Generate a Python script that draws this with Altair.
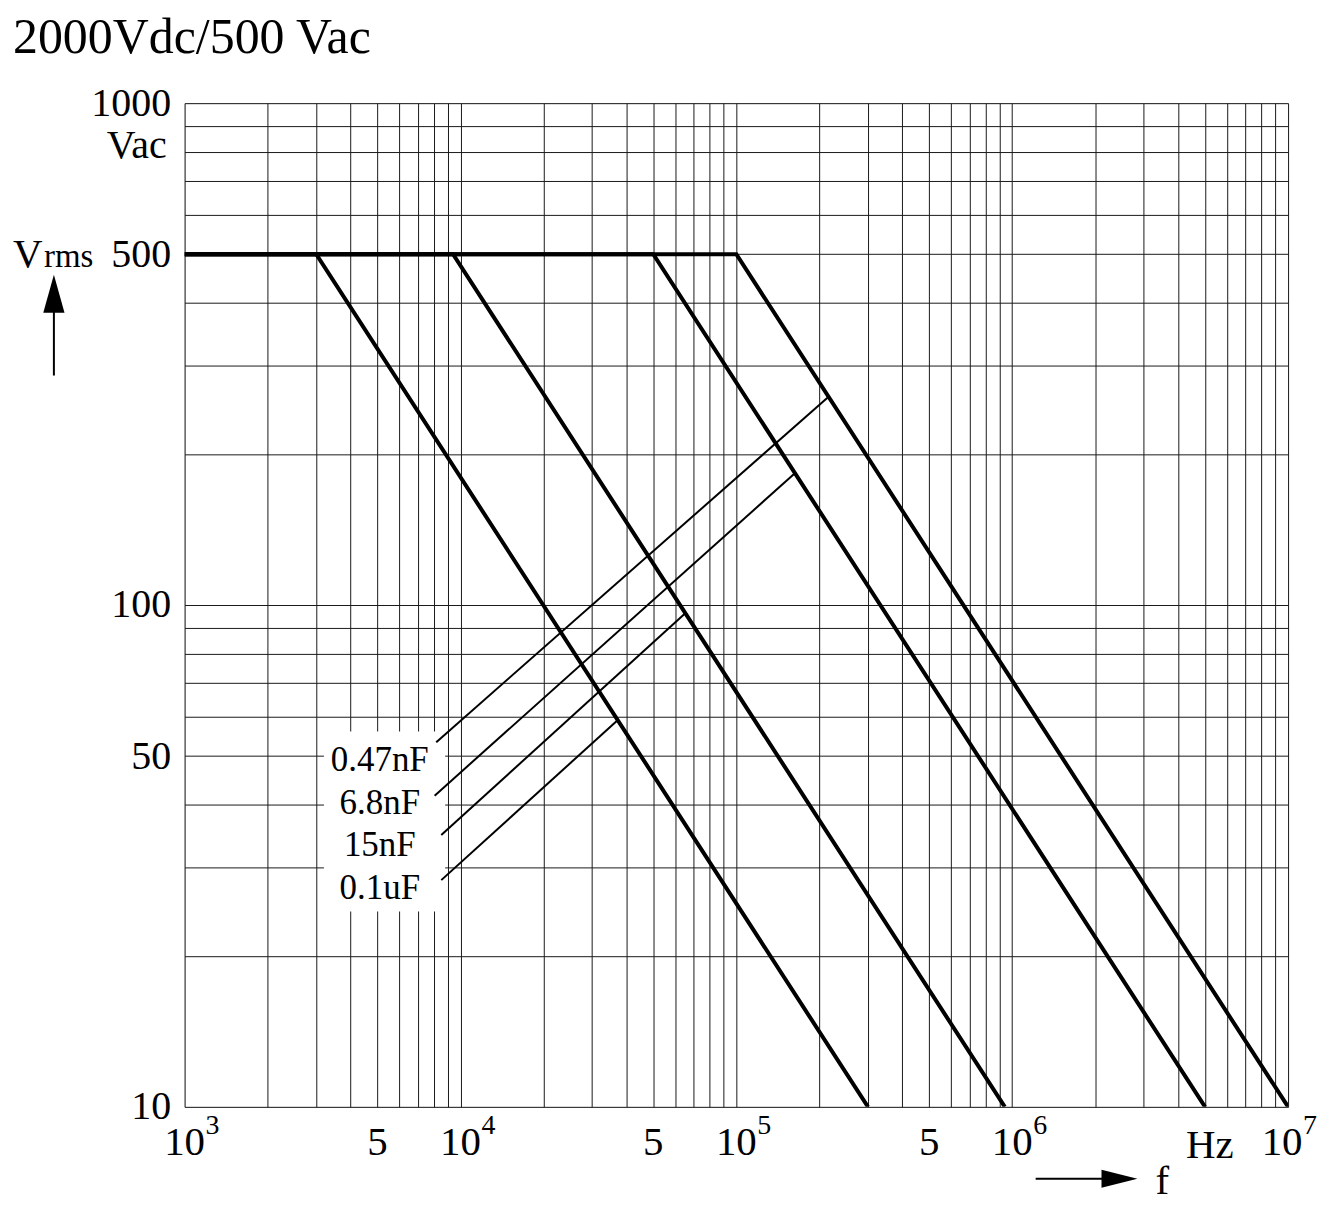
import altair as alt
import pandas as pd

# ---- data ----
curve_names = ["0.1uF", "15nF", "6.8nF", "0.47nF"]
corner_f = [3000, 9400, 50000, 100000]          # Hz where the curve leaves 500 V
end_f = [300000, 940000, 5000000, 10000000]     # Hz where the curve reaches 10 V
v_max = 500
v_min = 10
f_min = 1000

label_text = ["0.47nF", "6.8nF", "15nF", "0.1uF"]
leader_lo_f = [8170, 8060, 8520, 8520]
leader_lo_v = [53.3, 41.7, 34.8, 28.3]
leader_hi_f = [216000, 163000, 65300, 37200]
leader_hi_v = [260, 183, 96.3, 59]
label_f = [5100, 5100, 5100, 5100]
label_v = [46.7, 38.4, 31.6, 25.9]

box_f = [3200, 8800]
box_v = [56, 24.5]

x_grid = [m * 10 ** e for e in range(3, 7) for m in range(1, 10)] + [10 ** 7]
y_grid = [m * 10 ** e for e in (1, 2) for m in range(1, 10)] + [1000]
y_label_vals = [10, 50, 100, 500, 1000]

decade_f = [1e3, 1e4, 1e5, 1e6]
decade_exp = ["3", "4", "5", "6"]
last_decade_f = [1e7]
last_decade_exp = ["7"]
five_f = [5e3, 5e4, 5e5]
hz_f = [5.2e6]

W, H = 1106, 1006
FONT = "Liberation Serif"

# ---- tables ----
rows = []
for name, c, e in zip(curve_names, corner_f, end_f):
    rows += [
        {"name": name, "i": 0, "f": f_min, "v": v_max},
        {"name": name, "i": 1, "f": c, "v": v_max},
        {"name": name, "i": 2, "f": e, "v": v_min},
    ]
curves = pd.DataFrame(rows)

lrows = []
for t, f0, v0, f1, v1 in zip(label_text, leader_lo_f, leader_lo_v, leader_hi_f, leader_hi_v):
    lrows += [{"name": t, "i": 0, "f": f0, "v": v0}, {"name": t, "i": 1, "f": f1, "v": v1}]
leaders = pd.DataFrame(lrows)

labels = pd.DataFrame({"text": label_text, "f": label_f, "v": label_v})
box = pd.DataFrame({"f": [box_f[0]], "f2": [box_f[1]], "v": [box_v[0]], "v2": [box_v[1]]})
decades = pd.DataFrame({"f": decade_f, "base": ["10"] * len(decade_f), "exp": decade_exp})
last_dec = pd.DataFrame({"f": last_decade_f, "base": ["10"], "exp": last_decade_exp})
fives = pd.DataFrame({"f": five_f, "t": ["5"] * len(five_f)})
hz = pd.DataFrame({"f": hz_f, "t": ["Hz"]})
vrow = pd.DataFrame({"v": [v_max]})
one = pd.DataFrame({"a": [0]})

xs = alt.Scale(type="log", domain=[1000, 1e7], nice=False)
ys = alt.Scale(type="log", domain=[10, 1000], nice=False)

GRID = "#1a1a1a"
x_axis = alt.Axis(values=x_grid, grid=True, labels=False, ticks=False, domain=False,
                  title=None, gridColor=GRID, gridOpacity=1, gridWidth=1)
y_axis = alt.Axis(values=y_grid, grid=True, ticks=False, domain=False, title=None,
                  gridColor=GRID, gridOpacity=1, gridWidth=1,
                  labelExpr="indexof([10,50,100,500,1000], datum.value) >= 0 ? format(datum.value, 'd') : ''",
                  labelFont=FONT, labelFontSize=40, labelColor="black", labelPadding=14,
                  labelOverlap=False, labelBound=False)


def X(field="f"):
    return alt.X(f"{field}:Q", scale=xs, axis=x_axis)


def Y(field="v"):
    return alt.Y(f"{field}:Q", scale=ys, axis=y_axis)


box_layer = alt.Chart(box).mark_rect(color="white").encode(
    x=X("f"), x2="f2:Q", y=Y("v"), y2="v2:Q")

curve_layer = alt.Chart(curves).mark_line(color="black", strokeWidth=4, clip=True).encode(
    x=X(), y=Y(), detail="name:N", order="i:Q")

leader_layer = alt.Chart(leaders).mark_line(color="black", strokeWidth=2).encode(
    x=X(), y=Y(), detail="name:N", order="i:Q")

label_layer = alt.Chart(labels).mark_text(
    font=FONT, fontSize=35, align="center", baseline="alphabetic", color="black"
).encode(x=X(), y=Y(), text="text:N")

dec_base = alt.Chart(decades).mark_text(
    font=FONT, fontSize=41, align="center", baseline="alphabetic", color="black"
).encode(x=X(), y=alt.value(H + 48), text="base:N")
dec_exp = alt.Chart(decades).mark_text(
    font=FONT, fontSize=28, align="left", baseline="alphabetic", dx=21, color="black"
).encode(x=X(), y=alt.value(H + 27), text="exp:N")
last_base = alt.Chart(last_dec).mark_text(
    font=FONT, fontSize=41, align="center", baseline="alphabetic", dx=-6, color="black"
).encode(x=X(), y=alt.value(H + 48), text="base:N")
last_exp = alt.Chart(last_dec).mark_text(
    font=FONT, fontSize=28, align="left", baseline="alphabetic", dx=15, color="black"
).encode(x=X(), y=alt.value(H + 27), text="exp:N")
five_layer = alt.Chart(fives).mark_text(
    font=FONT, fontSize=41, align="center", baseline="alphabetic", color="black"
).encode(x=X(), y=alt.value(H + 48), text="t:N")
hz_layer = alt.Chart(hz).mark_text(
    font=FONT, fontSize=41, align="center", baseline="alphabetic", color="black"
).encode(x=X(), y=alt.value(H + 51), text="t:N")

# "Vrms" next to the 500 label and "Vac" under 1000
v_big = alt.Chart(vrow).mark_text(
    font=FONT, fontSize=41, align="left", baseline="alphabetic", dy=13, color="black"
).encode(x=alt.value(-172), y=Y(), text=alt.value("V"))
v_small = alt.Chart(vrow).mark_text(
    font=FONT, fontSize=33, align="left", baseline="alphabetic", dy=13, color="black"
).encode(x=alt.value(-141), y=Y(), text=alt.value("rms"))
vac = alt.Chart(one).mark_text(
    font=FONT, fontSize=40, align="right", baseline="alphabetic", color="black"
).encode(x=alt.value(-18), y=alt.value(55), text=alt.value("Vac"))

# arrows
up_shaft = alt.Chart(one).mark_rule(color="black", strokeWidth=2).encode(
    x=alt.value(-131), y=alt.value(208), y2=alt.value(273))
up_head = alt.Chart(one).mark_point(
    shape="M0,-1L0.56,1L-0.56,1Z", filled=True, color="black", opacity=1, size=1444
).encode(x=alt.value(-131), y=alt.value(191))
right_shaft = alt.Chart(one).mark_rule(color="black", strokeWidth=2).encode(
    x=alt.value(853), x2=alt.value(922), y=alt.value(1078))
right_head = alt.Chart(one).mark_point(
    shape="M1,0L-1,-0.5L-1,0.5Z", filled=True, color="black", opacity=1, size=1296
).encode(x=alt.value(937), y=alt.value(1078))
f_text = alt.Chart(one).mark_text(
    font=FONT, fontSize=41, align="center", baseline="alphabetic", color="black"
).encode(x=alt.value(980), y=alt.value(1093), text=alt.value("f"))

chart = alt.layer(
    box_layer, curve_layer, leader_layer, label_layer,
    dec_base, dec_exp, last_base, last_exp, five_layer, hz_layer,
    v_big, v_small, vac, up_shaft, up_head, right_shaft, right_head, f_text,
).properties(
    width=W, height=H,
    padding={"left": 5, "top": 4, "right": 5, "bottom": 3},
    title=alt.TitleParams("2000Vdc/500 Vac", anchor="start", frame="bounds", font=FONT,
                          fontSize=50, fontWeight="normal", color="black", offset=20),
).configure_view(
    stroke="black", strokeWidth=1
).configure(background="white")

chart.save("out.html", embed_options={"renderer": "svg", "actions": False})
